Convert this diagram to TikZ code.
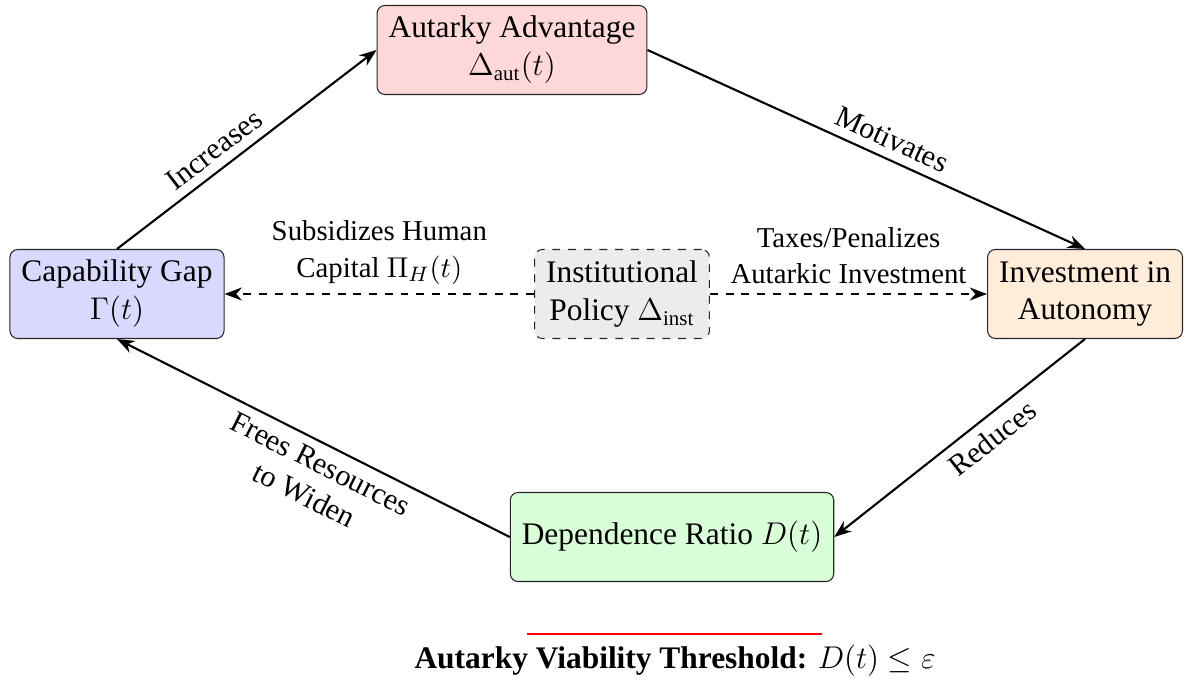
\documentclass[tikz,border=0pt]{standalone}
\usepackage{amsmath}
\usepackage[no-math]{fontspec}
\setmainfont{Liberation Serif}
\usetikzlibrary{arrows.meta}
\begin{document}
\begin{tikzpicture}[x=0.382pt,y=-0.382pt,
  box/.style={draw=black!85, rounded corners=3pt, align=center, inner xsep=4.4pt, inner ysep=2pt, minimum height=34pt, font=\fontsize{12}{14.5}\selectfont},
  conn/.style={thick, -{Stealth}},
  dconn/.style={conn, dashed},
  lbl/.style={font=\fontsize{11.5}{13.5}\selectfont, align=center, sloped},
  dlbl/.style={font=\fontsize{11}{13.8}\selectfont, align=center},
]
\useasboundingbox (0,0) rectangle (1187,681);

\node[box, fill=red!15] (aa) at (512,50) {Autarky Advantage\\$\Delta_{\text{aut}}(t)$};
\node[box, fill=blue!15] (cg) at (117,294) {Capability Gap\\$\Gamma(t)$};
\node[box, fill=gray!15, dashed] (ip) at (622,294) {Institutional\\Policy $\Delta_{\text{inst}}$};
\node[box, fill=orange!15] (ia) at (1085,294) {Investment in\\Autonomy};
\node[box, fill=green!15] (dr) at (672,537) {Dependence Ratio $D(t)$};

\draw[conn] (cg.north) -- node[lbl, pos=0.42, above] {Increases} (aa.west);
\draw[conn] (aa.east) -- node[lbl, pos=0.54, above] {Motivates} (ia.north);
\draw[conn] (ia.south) -- node[lbl, pos=0.42, below] {Reduces} (dr.east);
\draw[conn] (dr.west) -- node[lbl, pos=0.46, below] {Frees Resources\\to Widen} (cg.south);

\draw[dconn] (ip.west) -- node[dlbl, above] {Subsidizes Human\\Capital $\Pi_H(t)$} (cg.east);
\draw[dconn] (ip.east) -- node[dlbl, above] {Taxes/Penalizes\\Autarkic Investment} (ia.west);

\coordinate (rl) at (527,634);
\coordinate (rr) at (822,634);
\draw[red, line width=0.8pt] (rl) -- (rr);
\node[font=\fontsize{12}{14.5}\selectfont] (th) at (675,661) {\textbf{Autarky Viability Threshold:} $D(t)\leq\varepsilon$};
\end{tikzpicture}
\end{document}
